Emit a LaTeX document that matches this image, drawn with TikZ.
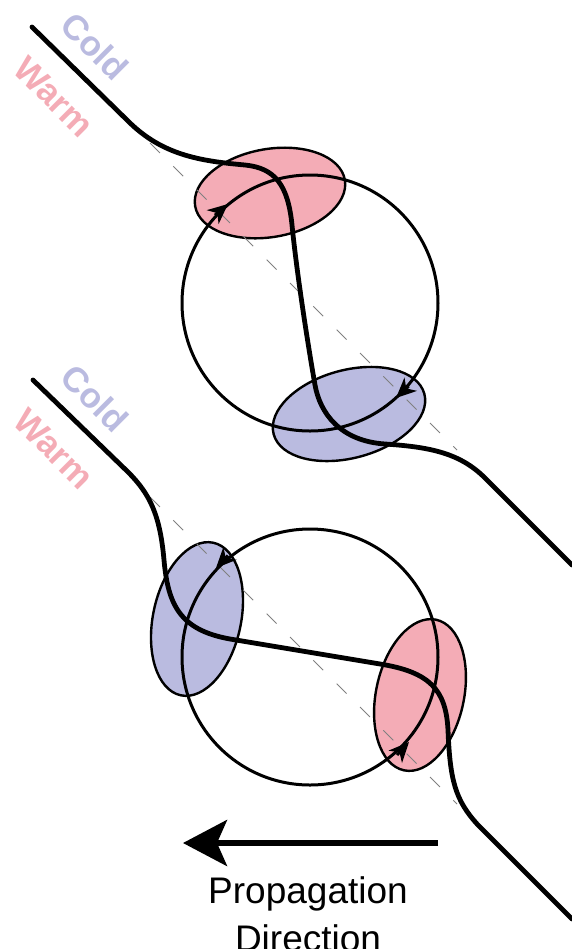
\documentclass[tikz,border=0pt]{standalone}
\usepackage{fontspec}
\setmainfont{Liberation Sans}
\usetikzlibrary{arrows.meta}
\definecolor{warmred}{RGB}{244,172,182}
\definecolor{coldblue}{RGB}{186,187,224}
\tikzset{
  front/.style={line width=2.4pt,line cap=round},
  ring/.style={line width=1.5pt},
  blob/.style={draw=black,line width=1.2pt},
  axis/.style={gray,line width=0.5pt,dash pattern=on 7pt off 9.5pt},
  lbl/.style={font=\fontsize{17.5}{19}\selectfont\bfseries,rotate=-45},
  spin/.style={ring,-{Stealth[length=10pt,width=9pt,inset=3pt]}}
}
\begin{document}
\begin{tikzpicture}[x=0.5pt,y=-0.5pt]
\useasboundingbox (0,0) rectangle (572,949);
\foreach \yy/\nm in {0/t,352/b} {
  \node[lbl,text=coldblue] (cold\nm) at (95,46+\yy) {Cold};
  \node[lbl,text=warmred] (warm\nm) at (54,97+\yy) {Warm};
}

\coordinate (tc) at (310,303);
\filldraw[blob,fill=warmred,rotate around={10:(270,193)}] (270,193) ellipse [x radius=76,y radius=44];
\filldraw[blob,fill=coldblue,rotate around={15:(349,414)}] (349,414) ellipse [x radius=78,y radius=44];
\coordinate (ta) at (150,143);
\coordinate (tz) at (457,450);
\draw[axis] (ta) -- (tz);
\draw[ring] (tc) circle [radius=128];
\draw[spin] (214.9,215.2) -- (228,204);
\draw[spin] (408.7,386.1) -- (396,398);
\draw[front] (32,27) -- (128,121) .. controls (162,155) and (200,161) .. (245,165)
  .. controls (275,168) and (288,185) .. (292,225)
  .. controls (297,275) and (308,345) .. (315,385)
  .. controls (320,413) and (340,441) .. (385,444)
  .. controls (430,447) and (460,453) .. (485,478) -- (572,565);

\coordinate (bc) at (310,657);
\filldraw[blob,fill=coldblue,rotate around={-12:(197,619)}] (197,619) ellipse [x radius=44,y radius=78];
\filldraw[blob,fill=warmred,rotate around={-12:(420,695)}] (420,695) ellipse [x radius=44,y radius=77];
\coordinate (ba) at (150,497);
\coordinate (bz) at (457,804);
\draw[axis] (ba) -- (bz);
\draw[ring] (bc) circle [radius=128];
\draw[spin] (228,555.5) -- (216,568);
\draw[spin] (397,755) -- (409,742);
\draw[front] (33,380) -- (128,472) .. controls (150,494) and (160,515) .. (164,560)
  .. controls (168,605) and (180,630) .. (230,639) -- (380,664)
  .. controls (430,672) and (446,690) .. (448,730)
  .. controls (450,780) and (455,800) .. (478,825) -- (572,919);

\coordinate (pa) at (438,843);
\coordinate (pb) at (183,843);
\draw[line width=2.8pt,-{Stealth[length=22pt,width=23pt,inset=5pt]}] (pa) -- (pb);
\node[anchor=base,font=\fontsize{18.5}{21}\selectfont] (prop) at (308,903) {Propagation};
\node[anchor=base,font=\fontsize{18.5}{21}\selectfont] (dirn) at (308,951) {Direction};
\end{tikzpicture}
\end{document}
